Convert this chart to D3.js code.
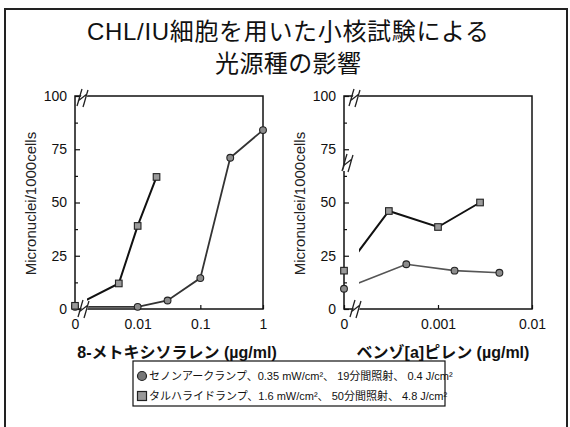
<!DOCTYPE html>
<html>
<head>
<meta charset="utf-8">
<script src="https://cdn.jsdelivr.net/npm/d3@7"></script>
<style>
  body { margin: 0; background: #fff; }
  text { font-family: "Liberation Sans", Arial, "Noto Sans CJK JP", sans-serif; }
</style>
</head>
<body>
<svg id="chart" width="570" height="427"></svg>
<script>
// ---- data ----
const titleLines = ["CHL/IU細胞を用いた小核試験による", "光源種の影響"];
const yTicks = [0, 25, 50, 75, 100];
const yMinorTicks = [12.5, 37.5, 62.5, 87.5];
const yLabel = "Micronuclei/1000cells";

// 8-methoxypsoralen (µg/ml)
const mopTicks = [0.01, 0.1, 1];
const mopTickLabels = ["0.01", "0.1", "1"];
const mopXenonControl = 1;
const mopXenonDose = [0.01, 0.03, 0.1, 0.3, 1];
const mopXenonValue = [1, 4, 14.5, 71, 84];
const mopHalideControl = 1.5;
const mopHalideDose = [0.005, 0.01, 0.02];
const mopHalideValue = [12, 39, 62];

// benzo[a]pyrene (µg/ml)
const bapTicks = [0.001, 0.01];
const bapTickLabels = ["0.001", "0.01"];
const bapXenonControl = 9.5;
const bapXenonDose = [0.00046, 0.0015, 0.0045];
const bapXenonValue = [21, 18, 17];
const bapHalideControl = 18;
const bapHalideDose = [0.0003, 0.001, 0.0028];
const bapHalideValue = [46, 38.5, 50];

const legendLabels = [
  "セノンアークランプ、0.35 mW/cm²、 19分間照射、 0.4 J/cm²",
  "タルハライドランプ、1.6 mW/cm²、 50分間照射、 4.8 J/cm²"
];

// ---- drawing ----
const svg = d3.select("#chart");
const W = 570, H = 427;

// outer frame
svg.append("rect").attr("x", 5).attr("y", 9).attr("width", 562).attr("height", 440)
  .attr("fill", "none").attr("stroke", "#222").attr("stroke-width", 2);

// title
svg.selectAll("text.title").data(titleLines).join("text")
  .attr("class", "title")
  .attr("x", 288).attr("y", (d, i) => 40 + i * 32)
  .attr("text-anchor", "middle")
  .attr("font-size", 24)
  .attr("fill", "#111")
  .attr("textLength", (d, i) => i === 0 ? 402 : 146)
  .attr("lengthAdjust", "spacing")
  .text(d => d);

const panels = [
  {
    id: "mop", left: 75, right: 263, domain: [0.001, 1],
    ticks: mopTicks, tickLabels: mopTickLabels, breakX: 84,
    title: "8-メトキシソラレン (µg/ml)", titleX: 177,
    series: [
      { shape: "circle", control: mopXenonControl, dose: mopXenonDose, value: mopXenonValue, color: "#333", width: 1.8 },
      { shape: "square", control: mopHalideControl, dose: mopHalideDose, value: mopHalideValue, color: "#111", width: 2 }
    ],
    extraBreaks: []
  },
  {
    id: "bap", left: 344, right: 532, domain: [0.0001, 0.01],
    ticks: bapTicks, tickLabels: bapTickLabels, breakX: 356,
    title: "ベンゾ[a]ピレン (µg/ml)", titleX: 443,
    series: [
      { shape: "circle", control: bapXenonControl, dose: bapXenonDose, value: bapXenonValue, color: "#555", width: 1.6 },
      { shape: "square", control: bapHalideControl, dose: bapHalideDose, value: bapHalideValue, color: "#111", width: 2 }
    ],
    extraBreaks: [{ x: 349, y: 163 }]
  }
];

const plotTop = 96, plotBottom = 309;

function drawBreak(g, cx, cy) {
  const b = g.append("g").attr("transform", `translate(${cx},${cy})`);
  b.append("path")
    .attr("d", "M-6,8 L-1,-8 L5,-8 L0,8 Z")
    .attr("fill", "#fff");
  b.append("path")
    .attr("d", "M-7,8 C-5,2 -4,-3 -2,-9 M-1,9 C1,3 2,-2 4,-8 M-6,3 L3,-4")
    .attr("fill", "none").attr("stroke", "#222").attr("stroke-width", 1.3);
}

panels.forEach(p => {
  const g = svg.append("g").attr("class", "panel-" + p.id);
  const x = d3.scaleLog().domain(p.domain).range([p.left, p.right]);
  const y = d3.scaleLinear().domain([0, 100]).range([plotBottom, plotTop]);
  const xAt = d => (d === 0 ? x(p.domain[0]) : x(d));

  // plot frame
  g.append("rect").attr("x", p.left).attr("y", plotTop)
    .attr("width", p.right - p.left).attr("height", plotBottom - plotTop)
    .attr("fill", "none").attr("stroke", "#111").attr("stroke-width", 1.5);

  // y axis
  const yAxis = g.append("g").attr("transform", `translate(${p.left},0)`)
    .call(d3.axisLeft(y).tickValues(yTicks).tickSize(-5).tickPadding(8));
  yAxis.select(".domain").remove();
  yAxis.selectAll("line").attr("stroke", "#111").attr("stroke-width", 1.2);
  yAxis.selectAll("text").attr("font-size", 14).attr("fill", "#111")
    .style("font-family", "'Liberation Sans', Arial, sans-serif");
  g.append("g").attr("transform", `translate(${p.left},0)`)
    .call(d3.axisLeft(y).tickValues(yMinorTicks).tickSize(-3).tickFormat(""))
    .call(s => s.select(".domain").remove())
    .selectAll("line").attr("stroke", "#111").attr("stroke-width", 1.2);

  // x axis
  const xAxis = g.append("g").attr("transform", `translate(0,${plotBottom})`)
    .call(d3.axisBottom(x).tickValues([p.domain[0]].concat(p.ticks))
      .tickFormat((d, i) => i === 0 ? "0" : p.tickLabels[i - 1])
      .tickSize(-4).tickPadding(10));
  xAxis.select(".domain").remove();
  xAxis.selectAll("line").attr("stroke", "#111").attr("stroke-width", 1.2);
  xAxis.selectAll("text").attr("font-size", 14).attr("fill", "#111")
    .style("font-family", "'Liberation Sans', Arial, sans-serif");

  // y axis title
  g.append("text")
    .attr("transform", `translate(${p.left - 39},${(plotTop + plotBottom) / 2 + 1}) rotate(-90)`)
    .attr("text-anchor", "middle")
    .attr("font-size", 15).attr("fill", "#222")
    .text(yLabel);

  // x axis title
  g.append("text")
    .attr("x", p.titleX).attr("y", 358)
    .attr("text-anchor", "middle")
    .attr("font-size", 16).attr("font-weight", "bold").attr("fill", "#111")
    .text(p.title);

  // series lines, hidden left of the axis break
  const clipId = "clip-" + p.id;
  svg.append("defs").append("clipPath").attr("id", clipId)
    .append("rect").attr("x", p.breakX + 3).attr("y", 0)
    .attr("width", p.right - p.breakX).attr("height", H);

  const line = d3.line().x(d => xAt(d.dose)).y(d => y(d.value));

  p.series.forEach(s => {
    const pts = [{ dose: 0, value: s.control }].concat(
      s.dose.map((d, i) => ({ dose: d, value: s.value[i] })));
    g.append("path").datum(pts)
      .attr("clip-path", `url(#${clipId})`)
      .attr("d", line)
      .attr("fill", "none").attr("stroke", s.color).attr("stroke-width", s.width);
    s.pts = pts;
  });

  // breaks on the x axes
  drawBreak(g, p.breakX, plotTop + 2);
  drawBreak(g, p.breakX + 1, plotBottom);
  p.extraBreaks.forEach(b => drawBreak(g, b.x, b.y));

  // markers
  p.series.forEach(s => {
    const m = g.append("g");
    if (s.shape === "circle") {
      m.selectAll("circle").data(s.pts).join("circle")
        .attr("cx", d => xAt(d.dose)).attr("cy", d => y(d.value))
        .attr("r", 3.4)
        .attr("fill", "#8c8c8c").attr("stroke", "#222").attr("stroke-width", 1.1);
    } else {
      m.selectAll("rect").data(s.pts).join("rect")
        .attr("x", d => xAt(d.dose) - 3.3).attr("y", d => y(d.value) - 3.3)
        .attr("width", 6.6).attr("height", 6.6)
        .attr("fill", "#9a9a9a").attr("stroke", "#222").attr("stroke-width", 1.1);
    }
  });
});

// legend
const lg = svg.append("g").attr("class", "legend");
lg.append("rect").attr("x", 133).attr("y", 361).attr("width", 312).attr("height", 45)
  .attr("fill", "#fff").attr("stroke", "#111").attr("stroke-width", 1.2);
lg.append("circle").attr("cx", 142).attr("cy", 376).attr("r", 4.5)
  .attr("fill", "#777").attr("stroke", "#222").attr("stroke-width", 1.2);
lg.append("rect").attr("x", 137.5).attr("y", 391.5).attr("width", 9).attr("height", 9)
  .attr("fill", "#999").attr("stroke", "#222").attr("stroke-width", 1.2);
lg.selectAll("text").data(legendLabels).join("text")
  .attr("x", 149).attr("y", (d, i) => 380 + i * 20)
  .attr("font-size", 11).attr("fill", "#111")
  .text(d => d);
</script>
</body>
</html>
